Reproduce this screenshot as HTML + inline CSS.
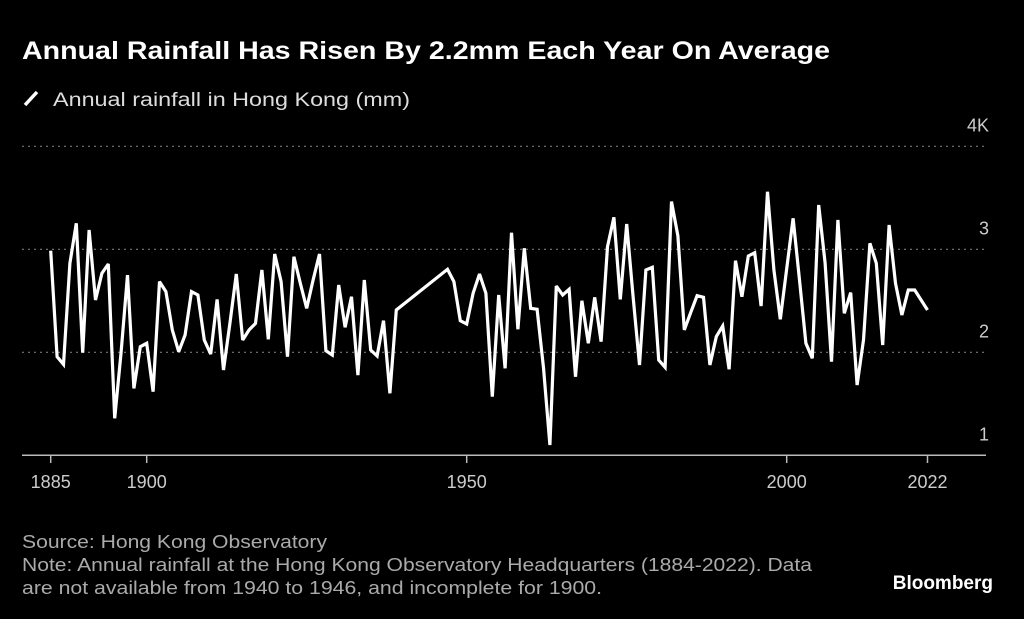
<!DOCTYPE html>
<html><head><meta charset="utf-8"><style>
html,body{margin:0;padding:0;background:#000;}
svg{display:block;}
text{font-family:"Liberation Sans",sans-serif;}
</style></head><body>
<svg id="chart" width="1024" height="619" viewBox="0 0 1024 619">
<rect width="1024" height="619" fill="#000"/>
<text x="22" y="59" fill="#fff" font-size="25" font-weight="bold" textLength="808" lengthAdjust="spacingAndGlyphs">Annual Rainfall Has Risen By 2.2mm Each Year On Average</text>
<g>
<line x1="25" y1="105" x2="37" y2="92" stroke="#fff" stroke-width="3.5"/>
<text x="53" y="106" fill="#ddd" font-size="19" textLength="357" lengthAdjust="spacingAndGlyphs">Annual rainfall in Hong Kong (mm)</text>
</g>
<g id="grid"></g>
<g id="yticks"></g>
<g id="xaxis"></g>
<g id="series"></g>
<text x="22" y="548" fill="#aaa" font-size="18" textLength="305" lengthAdjust="spacingAndGlyphs">Source: Hong Kong Observatory</text>
<text x="22" y="571" fill="#aaa" font-size="18" textLength="790" lengthAdjust="spacingAndGlyphs">Note: Annual rainfall at the Hong Kong Observatory Headquarters (1884-2022). Data</text>
<text x="22" y="594" fill="#aaa" font-size="18" textLength="580" lengthAdjust="spacingAndGlyphs">are not available from 1940 to 1946, and incomplete for 1900.</text>
<text x="993" y="589" fill="#fff" font-size="19" font-weight="bold" text-anchor="end">Bloomberg</text>
</svg>
<script>
const years = [1885,1886,1887,1888,1889,1890,1891,1892,1893,1894,1895,1896,1897,1898,1899,1900,1901,1902,1903,1904,1905,1906,1907,1908,1909,1910,1911,1912,1913,1914,1915,1916,1917,1918,1919,1920,1921,1922,1923,1924,1925,1926,1927,1928,1929,1930,1931,1932,1933,1934,1935,1936,1937,1938,1939,1947,1948,1949,1950,1951,1952,1953,1954,1955,1956,1957,1958,1959,1960,1961,1962,1963,1964,1965,1966,1967,1968,1969,1970,1971,1972,1973,1974,1975,1976,1977,1978,1979,1980,1981,1982,1983,1984,1985,1986,1987,1988,1989,1990,1991,1992,1993,1994,1995,1996,1997,1998,1999,2000,2001,2002,2003,2004,2005,2006,2007,2008,2009,2010,2011,2012,2013,2014,2015,2016,2017,2018,2019,2020,2021,2022];
const rainfall = [2986,1957,1883,2864,3252,1996,3187,2508,2767,2857,1359,2000,2750,1650,2054,2087,1617,2686,2589,2217,2006,2168,2589,2556,2119,1983,2514,1828,2281,2760,2119,2217,2281,2799,2126,2954,2686,1957,2928,2670,2427,2702,2954,2016,1974,2653,2243,2540,1779,2702,2022,1964,2307,1602,2411,2806,2686,2307,2275,2573,2760,2573,1569,2556,1845,3161,2223,3010,2427,2417,1850,1100,2644,2556,2612,1763,2501,2087,2534,2103,3025,3311,2514,3246,2540,1877,2799,2825,1925,1854,3463,3129,2217,2385,2550,2534,1877,2152,2255,1835,2889,2540,2935,2967,2450,3559,2799,2320,2812,3301,2702,2087,1942,3430,2867,1909,3284,2379,2580,1683,2119,3058,2864,2071,3236,2670,2362,2605,2605,2508,2411];
const yTickValues = [1000,2000,3000,4000];
const yTickLabels = ["1","2","3","4K"];
const xTickValues = [1885,1900,1950,2000,2022];
const xTickLabels = ["1885","1900","1950","2000","2022"];

const NS = "http://www.w3.org/2000/svg";
function xScale(y){ return 50.7 + (y - 1885) * 6.4; }
function yScale(v){ return 455.3 - (v - 1000) * 0.103; }
function mk(tag, attrs, parent){
  const e = document.createElementNS(NS, tag);
  for (const k in attrs) e.setAttribute(k, attrs[k]);
  parent.appendChild(e);
  return e;
}
const grid = document.getElementById('grid');
const yt = document.getElementById('yticks');
yTickValues.forEach((v, i) => {
  if (v > 1000) {
    const l = mk('line', {x1: 22, x2: 986, y1: yScale(v), y2: yScale(v), stroke: '#777', 'stroke-width': 1.2, 'stroke-dasharray': '2 4'}, grid);
    
    
  }
  const t = mk('text', {x: 989, y: yScale(v) - 15, fill: '#ccc', 'font-size': 18, 'text-anchor': 'end'}, yt);
  t.textContent = yTickLabels[i];
  
  
});
const xa = document.getElementById('xaxis');
const axis = mk('line', {x1: 22, x2: 986, y1: 455.3, y2: 455.3, stroke: '#bbb', 'stroke-width': 1.5}, xa);


xTickValues.forEach((v, i) => {
  const tk = mk('line', {x1: xScale(v), x2: xScale(v), y1: 455.3, y2: 463, stroke: '#bbb', 'stroke-width': 1.5}, xa);
  
  
  const t = mk('text', {x: xScale(v), y: 488, fill: '#ccc', 'font-size': 18, 'text-anchor': 'middle'}, xa);
  t.textContent = xTickLabels[i];
  
  
});
const s = document.getElementById('series');
const d = years.map((y, i) => (i ? 'L' : 'M') + xScale(y).toFixed(1) + ' ' + yScale(rainfall[i]).toFixed(1)).join(' ');
const p = mk('path', {d: d, fill: 'none', stroke: '#fff', 'stroke-width': 3.2, 'stroke-linejoin': 'miter', 'stroke-miterlimit': 3}, s);


</script>
</body></html>
